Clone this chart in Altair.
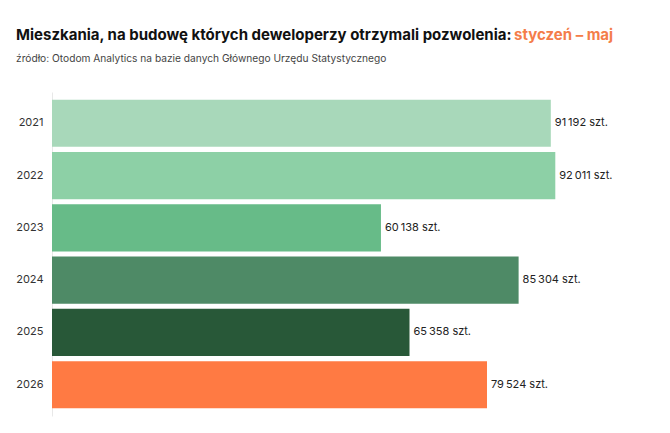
import altair as alt
import pandas as pd

years = ["2021", "2022", "2023", "2024", "2025", "2026"]
values = [91192, 92011, 60138, 85304, 65358, 79524]
colors = ["#a8d8ba", "#8dd0a6", "#67bb88", "#4e8a66", "#285838", "#ff7a43"]

title_main = "Mieszkania, na budowę których deweloperzy otrzymali pozwolenia:"
title_accent = "styczeń – maj"
subtitle = "źródło: Otodom Analytics na bazie danych Głównego Urzędu Statystycznego"

labels = [f"{v:,}".replace(",", "\u2009") + " szt." for v in values]
df = pd.DataFrame({"year": years, "value": values, "label": labels, "color": colors})

FONT = "Inter"

y_enc = alt.Y(
    "year:N",
    sort=years,
    title=None,
    scale=alt.Scale(paddingInner=0.1, paddingOuter=0.15),
    axis=alt.Axis(
        ticks=False,
        labelPadding=9,
        labelFontSize=11,
        labelColor="#333333",
        labelFont=FONT,
        domainColor="#e8e8e8",
        domainWidth=1,
        grid=False,
    ),
)
x_enc = alt.X("value:Q", scale=alt.Scale(domain=[0, 100000]), axis=None)

bars = alt.Chart(df).mark_bar(cornerRadius=0).encode(
    x=x_enc,
    y=y_enc,
    color=alt.Color("color:N", scale=None),
)

text = alt.Chart(df).mark_text(
    align="left", baseline="middle", dx=4, fontSize=11, font=FONT, color="#222222"
).encode(x=x_enc, y=y_enc, text="label:N")

heading = pd.DataFrame({"t": [title_main]})
title_mark = alt.Chart(heading).mark_text(
    align="left", baseline="alphabetic", fontSize=15, fontWeight="bold", font=FONT,
    color="#111111",
).encode(x=alt.value(-36), y=alt.value(-52), text="t:N")

accent = alt.Chart(pd.DataFrame({"t": [title_accent]})).mark_text(
    align="left", baseline="alphabetic", fontSize=15, fontWeight="bold", font=FONT,
    color="#f47d4a",
).encode(x=alt.value(462), y=alt.value(-52), text="t:N")

sub_mark = alt.Chart(pd.DataFrame({"t": [subtitle]})).mark_text(
    align="left", baseline="alphabetic", fontSize=10.2, font=FONT, color="#444444",
).encode(x=alt.value(-36), y=alt.value(-30), text="t:N")

chart = alt.layer(bars, text, title_mark, accent, sub_mark).properties(
    width=547,
    height=324,
    padding={"left": 44, "top": 84, "right": 63, "bottom": 9},
    autosize=alt.AutoSizeParams(type="none"),
    background="white",
).configure_view(stroke=None)

chart.save("out.html", embed_options={"renderer": "svg", "actions": False})
